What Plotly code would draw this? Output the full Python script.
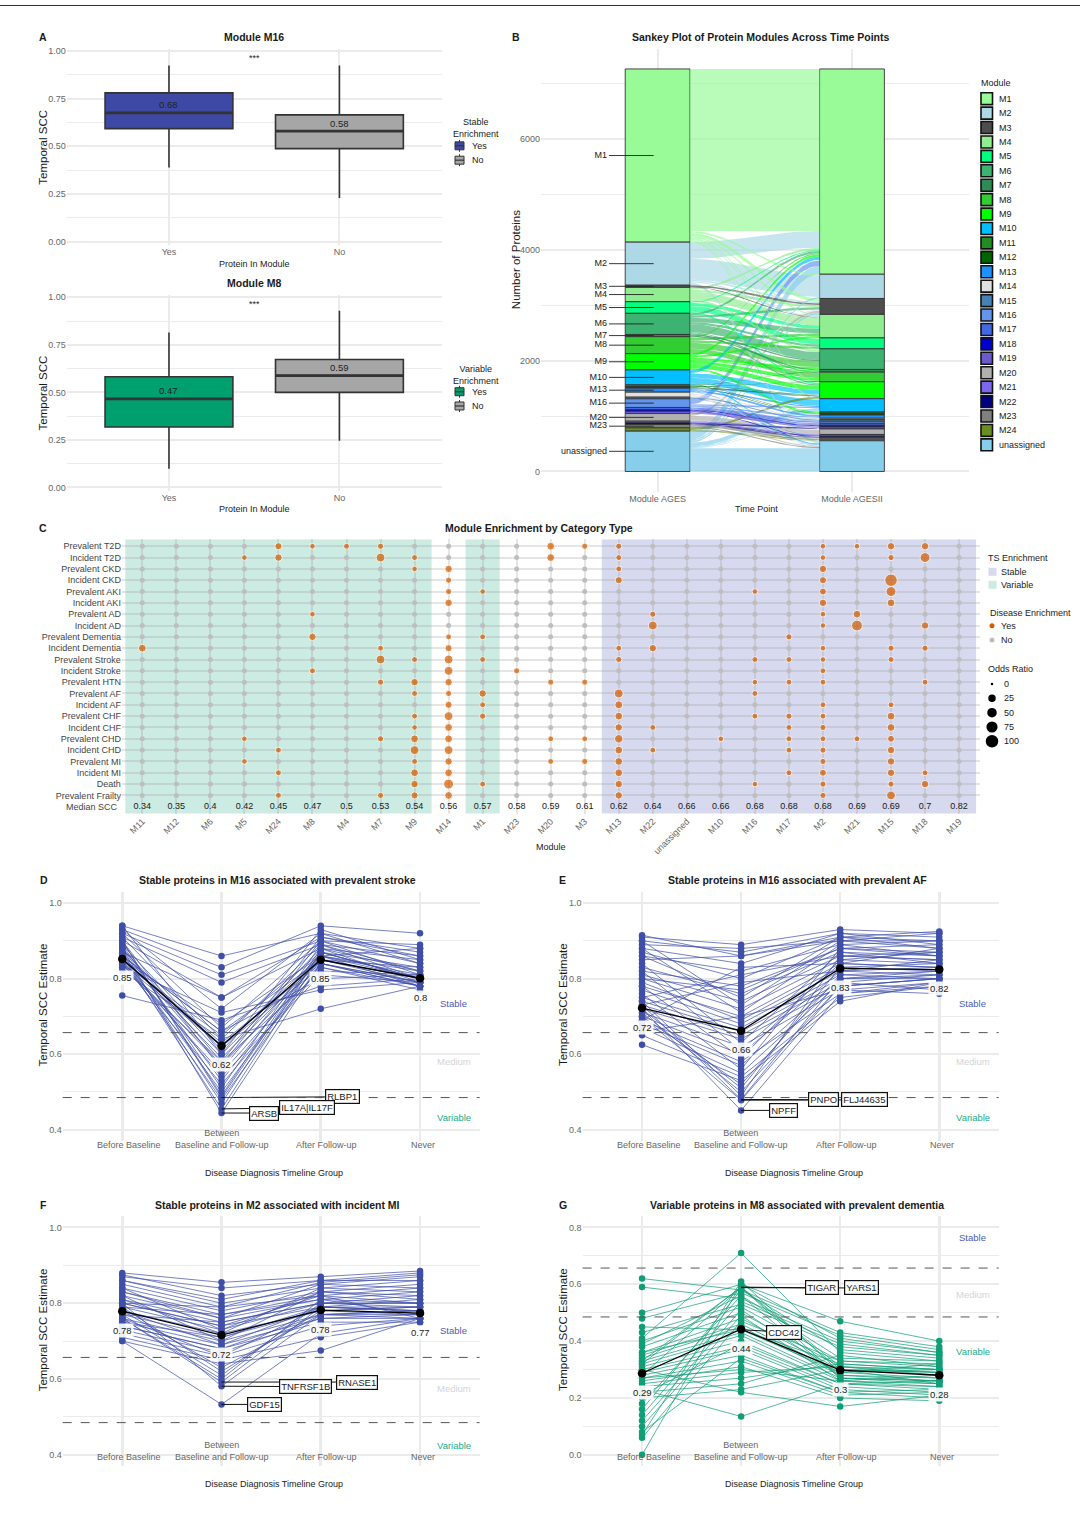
import math
import plotly.graph_objects as go

W, H = 1080, 1533
FONT = "Liberation Sans, Arial, Helvetica, sans-serif"
TXT = "#1a1a1a"
TICK = "#666666"
GRID = "#EBEBEB"
BLUE = "#3F4FA8"
GREEN = "#109E77"
ORANGE = "#D55E00"
NO_GREY = "#BEBEBE"

# ---------------- Panel A data ----------------
A_GROUPS = ["Yes", "No"]
A1_Q1 = [0.593, 0.488]
A1_MED = [0.676, 0.580]
A1_Q3 = [0.781, 0.665]
A1_LO = [0.389, 0.228]
A1_HI = [0.925, 0.925]
A1_COLORS = ["#3E49A6", "#A6A6A6"]
A2_Q1 = [0.318, 0.500]
A2_MED = [0.466, 0.588]
A2_Q3 = [0.582, 0.673]
A2_LO = [0.098, 0.245]
A2_HI = [0.815, 0.930]
A2_COLORS = ["#009F6E", "#A6A6A6"]
A_YTICKS = [0.0, 0.25, 0.5, 0.75, 1.0]
A_YMINOR = [0.125, 0.375, 0.625, 0.875]

# ---------------- Panel B data ----------------
MODULES = ["M1", "M2", "M3", "M4", "M5", "M6", "M7", "M8", "M9", "M10", "M11", "M12",
           "M13", "M14", "M15", "M16", "M17", "M18", "M19", "M20", "M21", "M22", "M23",
           "M24", "unassigned"]
MODULE_COLORS = ["#98FB98", "#ADD8E6", "#4D4D4D", "#90EE90", "#00FF7F", "#3CB371",
                 "#2E8B57", "#32CD32", "#00FF00", "#00BFFF", "#228B22", "#006400",
                 "#1E90FF", "#E0E0E0", "#4682B4", "#6495ED", "#4169E1", "#0000CD",
                 "#6A5ACD", "#B0B0B0", "#7B68EE", "#000080", "#808080", "#6B8E23",
                 "#87CEEB"]
FLOWS = [
    ("M1", "M1", 2928), ("M1", "M2", 30), ("M1", "M3", 60), ("M1", "M4", 30),
    ("M1", "M5", 20), ("M1", "M6", 20), ("M1", "M9", 20), ("M1", "M10", 20),
    ("M2", "M1", 300), ("M2", "M2", 380), ("M2", "M3", 28), ("M2", "M4", 20),
    ("M2", "unassigned", 50),
    ("M3", "M3", 30), ("M3", "M4", 10),
    ("M4", "M1", 40), ("M4", "M3", 40), ("M4", "M4", 140), ("M4", "M6", 38),
    ("M5", "M1", 20), ("M5", "M4", 60), ("M5", "M5", 100), ("M5", "M9", 30),
    ("M6", "M1", 40), ("M6", "M3", 40), ("M6", "M4", 80), ("M6", "M5", 40),
    ("M6", "M6", 142), ("M6", "M8", 20), ("M6", "M9", 20),
    ("M7", "M6", 22), ("M7", "M7", 18),
    ("M8", "M1", 20), ("M8", "M4", 50), ("M8", "M5", 38), ("M8", "M6", 110),
    ("M8", "M8", 88),
    ("M9", "M1", 40), ("M9", "M4", 34), ("M9", "M6", 40), ("M9", "M7", 18),
    ("M9", "M8", 50), ("M9", "M9", 80), ("M9", "M11", 16), ("M9", "M12", 16),
    ("M10", "M1", 60), ("M10", "M9", 80), ("M10", "M10", 110), ("M10", "unassigned", 20),
    ("M11", "M7", 12), ("M11", "M9", 10), ("M11", "M11", 8),
    ("M12", "M8", 16), ("M12", "M9", 10), ("M12", "M12", 4),
    ("M13", "M9", 16), ("M13", "M10", 20), ("M13", "M13", 30), ("M13", "unassigned", 6),
    ("M14", "M1", 10), ("M14", "M3", 20), ("M14", "M14", 24), ("M14", "M20", 20),
    ("M14", "unassigned", 16),
    ("M15", "M15", 20), ("M15", "M22", 6), ("M15", "unassigned", 4),
    ("M16", "M1", 100), ("M16", "M10", 20), ("M16", "M13", 20), ("M16", "M15", 10),
    ("M16", "M16", 6),
    ("M17", "M16", 20), ("M17", "M17", 20),
    ("M18", "M18", 20), ("M18", "M22", 10),
    ("M19", "M17", 16), ("M19", "M18", 10), ("M19", "M19", 14),
    ("M20", "M3", 40), ("M20", "M20", 80), ("M20", "unassigned", 18),
    ("M21", "M19", 12), ("M21", "M21", 18),
    ("M22", "M19", 10), ("M22", "M21", 12), ("M22", "M22", 8),
    ("M23", "M23", 20), ("M23", "M24", 20), ("M23", "unassigned", 20),
    ("M24", "M9", 40), ("M24", "M23", 10), ("M24", "M24", 10),
    ("unassigned", "M1", 150), ("unassigned", "M2", 28), ("unassigned", "M3", 30),
    ("unassigned", "M10", 70), ("unassigned", "M12", 10), ("unassigned", "M13", 10),
    ("unassigned", "M16", 10), ("unassigned", "unassigned", 420),
]
B_LABELED = ["M1", "M2", "M3", "M4", "M5", "M6", "M7", "M8", "M9", "M10", "M13",
             "M16", "M20", "M23", "unassigned"]
B_TIMEPOINTS = ["Module AGES", "Module AGESII"]
B_YTICKS = [0, 2000, 4000, 6000]
B_YMINOR = [1000, 3000, 5000, 7000]

# ---------------- Panel C data ----------------
C_MODULES = ["M11", "M12", "M6", "M5", "M24", "M8", "M4", "M7", "M9", "M14", "M1", "M23",
             "M20", "M3", "M13", "M22", "unassigned", "M10", "M16", "M17", "M2", "M21",
             "M15", "M18", "M19"]
C_MEDIAN_SCC = [0.34, 0.35, 0.4, 0.42, 0.45, 0.47, 0.5, 0.53, 0.54, 0.56, 0.57, 0.58,
                0.59, 0.61, 0.62, 0.64, 0.66, 0.66, 0.68, 0.68, 0.68, 0.69, 0.69, 0.7, 0.82]
C_TS = ["Variable"] * 9 + ["None", "Variable", "None", "None", "None"] + ["Stable"] * 11
C_CATEGORIES = ["Prevalent T2D", "Incident T2D", "Prevalent CKD", "Incident CKD",
                "Prevalent AKI", "Incident AKI", "Prevalent AD", "Incident AD",
                "Prevalent Dementia", "Incident Dementia", "Prevalent Stroke",
                "Incident Stroke", "Prevalent HTN", "Prevalent AF", "Incident AF",
                "Prevalent CHF", "Incident CHF", "Prevalent CHD", "Incident CHD",
                "Prevalent MI", "Incident MI", "Death", "Prevalent Frailty"]
C_ENRICH = {
    "M11": {"Incident Dementia": 28},
    "M12": {},
    "M6": {},
    "M5": {"Incident T2D": 10, "Prevalent CHD": 10, "Prevalent MI": 10},
    "M24": {"Prevalent T2D": 22, "Incident T2D": 25, "Incident CHD": 12, "Incident MI": 12,
            "Prevalent Frailty": 12},
    "M8": {"Prevalent T2D": 10, "Prevalent AD": 10, "Prevalent Dementia": 25,
           "Incident Stroke": 12},
    "M4": {"Prevalent T2D": 12},
    "M7": {"Prevalent T2D": 14, "Incident T2D": 40, "Incident Dementia": 12,
           "Prevalent Stroke": 40, "Prevalent HTN": 14, "Prevalent CHD": 14,
           "Prevalent Frailty": 14},
    "M9": {"Incident T2D": 12, "Prevalent CKD": 10, "Prevalent Stroke": 12,
           "Prevalent HTN": 25, "Prevalent AF": 12, "Prevalent CHF": 12, "Incident CHF": 10,
           "Prevalent CHD": 28, "Incident CHD": 40, "Prevalent MI": 12, "Incident MI": 28,
           "Death": 25, "Prevalent Frailty": 22},
    "M14": {"Prevalent CKD": 25, "Incident CKD": 14, "Prevalent AKI": 14, "Incident AKI": 25,
            "Prevalent Dementia": 12, "Incident Dementia": 22, "Prevalent Stroke": 40,
            "Incident Stroke": 40, "Prevalent HTN": 25, "Prevalent AF": 14,
            "Incident AF": 22, "Prevalent CHF": 40, "Incident CHF": 28, "Prevalent CHD": 28,
            "Incident CHD": 40, "Prevalent MI": 25, "Incident MI": 28, "Death": 55,
            "Prevalent Frailty": 28},
    "M1": {"Prevalent AKI": 10, "Prevalent Dementia": 12, "Prevalent Stroke": 12,
           "Prevalent AF": 25, "Incident AF": 12, "Prevalent CHF": 14, "Death": 12},
    "M23": {"Incident Stroke": 14},
    "M20": {"Prevalent T2D": 28, "Incident T2D": 28, "Prevalent HTN": 14,
            "Prevalent CHD": 12, "Prevalent MI": 12},
    "M3": {"Prevalent T2D": 14, "Prevalent HTN": 14, "Prevalent CHD": 12, "Prevalent MI": 14},
    "M13": {"Prevalent T2D": 14, "Incident T2D": 12, "Prevalent CKD": 12, "Incident CKD": 22,
            "Incident Dementia": 12, "Prevalent Stroke": 14, "Prevalent AF": 40,
            "Incident AF": 30, "Prevalent CHF": 28, "Incident CHF": 25, "Prevalent CHD": 35,
            "Incident CHD": 28, "Prevalent MI": 28, "Incident MI": 28, "Death": 25,
            "Prevalent Frailty": 25},
    "M22": {"Prevalent AD": 14, "Incident AD": 40, "Incident Dementia": 25,
            "Incident CHF": 12, "Incident CHD": 12},
    "unassigned": {},
    "M10": {"Prevalent CHD": 10},
    "M16": {"Prevalent AKI": 10, "Prevalent Stroke": 12, "Prevalent HTN": 10,
            "Prevalent AF": 12, "Prevalent CHF": 12, "Death": 10},
    "M17": {"Prevalent Dementia": 14, "Prevalent Stroke": 12, "Prevalent HTN": 12,
            "Prevalent CHF": 14, "Incident CHF": 12, "Prevalent CHD": 12, "Incident CHD": 12,
            "Incident MI": 12},
    "M2": {"Prevalent T2D": 10, "Incident T2D": 10, "Prevalent CKD": 25, "Incident CKD": 22,
           "Prevalent AKI": 20, "Incident AKI": 25, "Prevalent AD": 10, "Incident AD": 10,
           "Incident Dementia": 10, "Prevalent Stroke": 10, "Incident Stroke": 12,
           "Prevalent HTN": 12, "Incident AF": 12, "Prevalent CHF": 12, "Incident CHF": 14,
           "Prevalent CHD": 12, "Incident CHD": 14, "Prevalent MI": 14, "Incident MI": 20,
           "Death": 14, "Prevalent Frailty": 14},
    "M21": {"Prevalent T2D": 10, "Prevalent AD": 28, "Incident AD": 70, "Prevalent CHD": 12},
    "M15": {"Prevalent T2D": 25, "Incident T2D": 14, "Incident CKD": 100, "Prevalent AKI": 55,
            "Incident AKI": 28, "Incident Dementia": 14, "Prevalent Stroke": 12,
            "Incident AF": 12, "Prevalent CHF": 28, "Incident CHF": 28, "Prevalent CHD": 20,
            "Incident CHD": 25, "Prevalent MI": 25, "Incident MI": 25, "Death": 14,
            "Prevalent Frailty": 40},
    "M18": {"Prevalent T2D": 25, "Incident T2D": 55, "Incident AD": 25,
            "Incident Dementia": 14, "Prevalent HTN": 12, "Incident MI": 12, "Death": 25},
    "M19": {},
}
C_OR_LEGEND = [0, 25, 50, 75, 100]

# ---------------- Panels D-G data ----------------
TL_GROUPS = ["Before Baseline", "Between<br>Baseline and Follow-up", "After Follow-up", "Never"]
THRESHOLDS = [0.657, 0.485]

D_NAMES = ["RLBP1", "IL17A|IL17F", "ARSB"]
D_VALUES = [
    [0.90, 0.485, 0.87, 0.80], [0.86, 0.455, 0.86, 0.78], [0.88, 0.444, 0.84, 0.79],
    [0.94, 0.86, 0.92, 0.88], [0.93, 0.83, 0.94, 0.92], [0.92, 0.81, 0.90, 0.89],
    [0.91, 0.79, 0.89, 0.86], [0.90, 0.75, 0.91, 0.87], [0.87, 0.75, 0.88, 0.85],
    [0.93, 0.72, 0.92, 0.84], [0.85, 0.68, 0.86, 0.82], [0.92, 0.67, 0.90, 0.81],
    [0.86, 0.66, 0.85, 0.80], [0.84, 0.65, 0.87, 0.83], [0.91, 0.64, 0.89, 0.80],
    [0.85, 0.63, 0.84, 0.79], [0.84, 0.62, 0.83, 0.78], [0.89, 0.61, 0.88, 0.82],
    [0.88, 0.60, 0.86, 0.80], [0.86, 0.59, 0.85, 0.79], [0.83, 0.58, 0.82, 0.81],
    [0.87, 0.57, 0.90, 0.84], [0.90, 0.56, 0.87, 0.80], [0.84, 0.55, 0.84, 0.78],
    [0.85, 0.54, 0.81, 0.79], [0.88, 0.53, 0.86, 0.81], [0.84, 0.52, 0.83, 0.77],
    [0.89, 0.51, 0.89, 0.82], [0.86, 0.50, 0.85, 0.80], [0.90, 0.49, 0.88, 0.79],
    [0.85, 0.48, 0.84, 0.78], [0.87, 0.47, 0.87, 0.80], [0.755, 0.69, 0.78, 0.80],
    [0.83, 0.71, 0.77, 0.79], [0.82, 0.64, 0.72, 0.78], [0.94, 0.60, 0.93, 0.85],
    [0.86, 0.66, 0.80, 0.81], [0.85, 0.62, 0.86, 0.88], [0.88, 0.58, 0.91, 0.86],
    [0.84, 0.57, 0.85, 0.83],
]
D_MEANS = [0.852, 0.622, 0.850, 0.801]
D_LABEL_POS = [(3.22, 0.487), (2.86, 0.458), (2.43, 0.444)]

E_NAMES = ["PNPO", "FLJ44635", "NPFF"]
E_VALUES = [
    [0.73, 0.48, 0.80, 0.81], [0.70, 0.478, 0.78, 0.80], [0.72, 0.451, 0.76, 0.79],
    [0.91, 0.89, 0.93, 0.92], [0.90, 0.87, 0.92, 0.91], [0.915, 0.86, 0.91, 0.925],
    [0.89, 0.88, 0.90, 0.90], [0.88, 0.84, 0.92, 0.89], [0.86, 0.82, 0.89, 0.90],
    [0.87, 0.80, 0.91, 0.88], [0.85, 0.86, 0.90, 0.92], [0.82, 0.78, 0.88, 0.87],
    [0.83, 0.76, 0.87, 0.86], [0.81, 0.74, 0.86, 0.85], [0.80, 0.72, 0.85, 0.84],
    [0.78, 0.70, 0.84, 0.83], [0.79, 0.69, 0.83, 0.82], [0.77, 0.68, 0.82, 0.81],
    [0.75, 0.67, 0.81, 0.80], [0.74, 0.66, 0.80, 0.82], [0.73, 0.65, 0.79, 0.81],
    [0.72, 0.64, 0.78, 0.80], [0.71, 0.62, 0.77, 0.79], [0.70, 0.60, 0.82, 0.83],
    [0.69, 0.58, 0.76, 0.78], [0.68, 0.57, 0.80, 0.80], [0.67, 0.55, 0.79, 0.77],
    [0.65, 0.54, 0.75, 0.78], [0.625, 0.53, 0.74, 0.79], [0.70, 0.52, 0.81, 0.82],
    [0.72, 0.51, 0.83, 0.84], [0.71, 0.50, 0.78, 0.80], [0.74, 0.49, 0.86, 0.85],
    [0.76, 0.56, 0.88, 0.86], [0.78, 0.59, 0.85, 0.87], [0.82, 0.61, 0.84, 0.83],
    [0.84, 0.63, 0.87, 0.84], [0.88, 0.71, 0.89, 0.86], [0.90, 0.73, 0.90, 0.88],
    [0.86, 0.75, 0.91, 0.90], [0.80, 0.77, 0.88, 0.89], [0.73, 0.79, 0.82, 0.85],
    [0.75, 0.81, 0.86, 0.87], [0.69, 0.83, 0.84, 0.88], [0.66, 0.70, 0.77, 0.76],
]
E_MEANS = [0.722, 0.662, 0.827, 0.824]
E_LABEL_POS = [(2.83, 0.479), (3.25, 0.479), (2.43, 0.451)]

F_NAMES = ["RNASE1", "TNFRSF1B", "GDF15"]
F_VALUES = [
    [0.76, 0.592, 0.79, 0.78], [0.80, 0.581, 0.77, 0.76], [0.70, 0.533, 0.72, 0.76],
    [0.88, 0.855, 0.87, 0.885], [0.87, 0.84, 0.86, 0.88], [0.875, 0.82, 0.85, 0.87],
    [0.86, 0.80, 0.84, 0.86], [0.85, 0.79, 0.855, 0.875], [0.84, 0.78, 0.83, 0.85],
    [0.83, 0.77, 0.82, 0.84], [0.82, 0.76, 0.81, 0.83], [0.81, 0.75, 0.80, 0.82],
    [0.80, 0.74, 0.79, 0.81], [0.79, 0.73, 0.80, 0.80], [0.78, 0.72, 0.78, 0.79],
    [0.77, 0.71, 0.79, 0.78], [0.76, 0.70, 0.77, 0.77], [0.75, 0.69, 0.76, 0.76],
    [0.74, 0.68, 0.75, 0.75], [0.73, 0.67, 0.76, 0.77], [0.72, 0.66, 0.74, 0.76],
    [0.71, 0.65, 0.71, 0.75], [0.70, 0.64, 0.675, 0.76], [0.78, 0.63, 0.77, 0.78],
    [0.79, 0.62, 0.78, 0.79], [0.77, 0.61, 0.80, 0.80], [0.76, 0.60, 0.81, 0.77],
    [0.82, 0.70, 0.83, 0.82], [0.81, 0.72, 0.84, 0.83], [0.80, 0.74, 0.82, 0.80],
    [0.83, 0.76, 0.85, 0.84], [0.84, 0.73, 0.83, 0.81], [0.78, 0.69, 0.79, 0.78],
    [0.77, 0.75, 0.80, 0.79], [0.79, 0.77, 0.81, 0.80], [0.80, 0.79, 0.82, 0.76],
    [0.75, 0.71, 0.78, 0.77], [0.74, 0.68, 0.77, 0.78], [0.76, 0.66, 0.79, 0.79],
    [0.86, 0.81, 0.86, 0.86],
]
F_MEANS = [0.779, 0.716, 0.782, 0.774]
F_LABEL_POS = [(3.36, 0.592), (2.85, 0.580), (2.43, 0.533)]

G_NAMES = ["TIGAR", "YARS1", "CDC42"]
G_VALUES = [
    [0.33, 0.59, 0.27, 0.26], [0.28, 0.588, 0.30, 0.25], [0.36, 0.44, 0.32, 0.30],
    [0.62, 0.58, 0.43, 0.38], [0.59, 0.55, 0.40, 0.36], [0.50, 0.60, 0.47, 0.40],
    [0.48, 0.57, 0.42, 0.37], [0.43, 0.53, 0.38, 0.35], [0.41, 0.71, 0.36, 0.33],
    [0.40, 0.52, 0.33, 0.32], [0.38, 0.50, 0.31, 0.30], [0.36, 0.48, 0.30, 0.29],
    [0.35, 0.46, 0.29, 0.27], [0.34, 0.45, 0.28, 0.26], [0.33, 0.43, 0.27, 0.25],
    [0.32, 0.42, 0.26, 0.24], [0.31, 0.40, 0.25, 0.23], [0.30, 0.38, 0.24, 0.22],
    [0.29, 0.37, 0.23, 0.21], [0.28, 0.35, 0.22, 0.20], [0.27, 0.33, 0.21, 0.22],
    [0.26, 0.31, 0.20, 0.19], [0.25, 0.29, 0.31, 0.28], [0.24, 0.27, 0.32, 0.30],
    [0.22, 0.25, 0.35, 0.31], [0.20, 0.23, 0.30, 0.29], [0.18, 0.56, 0.34, 0.33],
    [0.16, 0.58, 0.37, 0.34], [0.14, 0.54, 0.39, 0.35], [0.12, 0.51, 0.28, 0.27],
    [0.10, 0.49, 0.26, 0.28], [0.07, 0.61, 0.29, 0.30], [0.06, 0.47, 0.33, 0.31],
    [0.00, 0.60, 0.41, 0.36], [0.30, 0.22, 0.17, 0.21], [0.23, 0.135, 0.25, 0.24],
    [0.45, 0.44, 0.29, 0.32], [0.39, 0.56, 0.27, 0.26], [0.32, 0.59, 0.31, 0.29],
    [0.21, 0.39, 0.25, 0.26], [0.27, 0.30, 0.26, 0.25], [0.08, 0.34, 0.22, 0.23],
]
G_MEANS = [0.287, 0.442, 0.298, 0.280]
G_LABEL_POS = [(2.82, 0.587), (3.22, 0.587), (2.43, 0.432)]

# =====================================================================
def fx(px):
    return px / W


def fy(py):
    return 1 - py / H


def rgba(h, a):
    h = h.lstrip("#")
    return "rgba(%d,%d,%d,%s)" % (int(h[0:2], 16), int(h[2:4], 16), int(h[4:6], 16), a)


fig = go.Figure()
annotations = []
shapes = []
layout_axes = {}


def txt(px, py, s, size=9, color=TXT, bold=False, xanchor="center", yanchor="middle", angle=0):
    if bold:
        s = "<b>%s</b>" % s
    annotations.append(dict(x=fx(px), y=fy(py), xref="paper", yref="paper", text=s,
                            showarrow=False, textangle=angle, xanchor=xanchor,
                            yanchor=yanchor, font=dict(family=FONT, size=size, color=color)))


def rect_px(x0, y0, x1, y1, fill, lc=None, lw=0):
    shapes.append(dict(type="rect", xref="paper", yref="paper", x0=fx(x0), x1=fx(x1),
                       y0=fy(y1), y1=fy(y0), fillcolor=fill,
                       line=dict(color=lc or fill, width=lw)))


def line_px(x0, y0, x1, y1, color, width):
    shapes.append(dict(type="line", xref="paper", yref="paper", x0=fx(x0), x1=fx(x1),
                       y0=fy(y0), y1=fy(y1), line=dict(color=color, width=width)))


def circle_px(cx, cy, d, fill):
    shapes.append(dict(type="circle", xref="paper", yref="paper", xsizemode="pixel",
                       ysizemode="pixel", xanchor=fx(cx), yanchor=fy(cy), x0=-d / 2,
                       x1=d / 2, y0=-d / 2, y1=d / 2, fillcolor=fill, line=dict(width=0)))


def axis(name, dom, rng, anchor, **kw):
    d = dict(domain=dom, range=rng, anchor=anchor, showline=False, zeroline=False,
             ticks="", showgrid=True, gridcolor=GRID, gridwidth=2.0, fixedrange=True,
             tickfont=dict(family=FONT, size=9, color=TICK))
    d.update(kw)
    layout_axes[name] = d


def xdom(a, b):
    return [fx(a), fx(b)]


def ydom(top, bottom):
    return [fy(bottom), fy(top)]


# top rule
line_px(0, 2.5, 1080, 2.5, "#333333", 1)

# ---------------- Panel A ----------------
A_PANELS = [
    dict(xa="x", ya="y", xn="xaxis", yn="yaxis", q1=A1_Q1, med=A1_MED, q3=A1_Q3,
         lo=A1_LO, hi=A1_HI, colors=A1_COLORS, ypx=(46, 243), title="Module M16",
         title_py=34, xt_py=262, leg_title="Stable<br>Enrichment", leg_py=(125, 143.3, 157.7)),
    dict(xa="x2", ya="y2", xn="xaxis2", yn="yaxis2", q1=A2_Q1, med=A2_MED, q3=A2_Q3,
         lo=A2_LO, hi=A2_HI, colors=A2_COLORS, ypx=(292.7, 489.3), title="Module M8",
         title_py=281, xt_py=508, leg_title="Variable<br>Enrichment", leg_py=(373, 390, 404.3)),
]
A_YPX_PER_UNIT = [(48.3, 239.3), (295.3, 486.0)]
for k, P in enumerate(A_PANELS):
    y1px, y0px = A_YPX_PER_UNIT[k]
    ppu = y0px - y1px
    rng = [-(P["ypx"][1] - y0px) / ppu, 1 + (y1px - P["ypx"][0]) / ppu]
    axis(P["xn"], xdom(66.7, 441.7), [0.4, 2.6], P["ya"], tickvals=[1, 2],
         ticktext=A_GROUPS)
    axis(P["yn"], ydom(*P["ypx"]), rng, P["xa"], tickvals=A_YTICKS, tickformat=".2f",
         minor=dict(tickvals=A_YMINOR, showgrid=True, gridcolor=GRID, gridwidth=1))
    for i in range(2):
        fig.add_trace(go.Box(x=[i + 1], q1=[P["q1"][i]], median=[P["med"][i]],
                             q3=[P["q3"][i]], lowerfence=[P["lo"][i]],
                             upperfence=[P["hi"][i]], width=0.75, boxpoints=False,
                             whiskerwidth=0,
                             fillcolor=P["colors"][i], line=dict(color="#333333", width=1.6),
                             xaxis=P["xa"], yaxis=P["ya"], showlegend=False, hoverinfo="skip"))
        fig.add_trace(go.Scatter(x=[i + 1 - 0.375, i + 1 + 0.375],
                                 y=[P["med"][i], P["med"][i]], mode="lines",
                                 line=dict(color="#333333", width=2.8), xaxis=P["xa"],
                                 yaxis=P["ya"], showlegend=False, hoverinfo="skip"))
        annotations.append(dict(x=i + 1, y=P["med"][i], xref=P["xa"], yref=P["ya"],
                                text="%.2f" % P["med"][i], showarrow=False, yshift=8,
                                font=dict(family=FONT, size=9.5, color="#222222")))
    annotations.append(dict(x=1.5, y=0.965, xref=P["xa"], yref=P["ya"], text="***",
                            showarrow=False, font=dict(family=FONT, size=9, color=TXT)))
    txt(254, P["title_py"], P["title"], size=10.5, bold=True)
    txt(254, P["xt_py"], "Protein In Module", size=9)
    txt(42.7, (P["ypx"][0] + P["ypx"][1]) / 2, "Temporal SCC", size=11.5, angle=-90)
    # legend
    txt(476, P["leg_py"][0], P["leg_title"], size=9)
    for j in range(2):
        cy = P["leg_py"][1 + j]
        line_px(459.5, cy - 6, 459.5, cy + 6, "#333333", 1)
        rect_px(455, cy - 4, 464, cy + 4, P["colors"][j], "#333333", 1)
        line_px(455, cy, 464, cy, "#333333", 1.2)
        txt(470, cy, A_GROUPS[j], size=9, xanchor="left")

txt(43, 34, "A", size=10.5, bold=True)

# ---------------- Panel B ----------------
MOD_IDX = {m: i for i, m in enumerate(MODULES)}
TOTAL = sum(c for _, _, c in FLOWS)
left_size = [sum(c for s, t, c in FLOWS if s == m) for m in MODULES]
right_size = [sum(c for s, t, c in FLOWS if t == m) for m in MODULES]


def stack_tops(sizes):
    tops, cur = [], TOTAL
    for s in sizes:
        tops.append(cur)
        cur -= s
    return tops


left_top = stack_tops(left_size)
right_top = stack_tops(right_size)
lcur = {m: left_top[i] for i, m in enumerate(MODULES)}
rcur = {m: right_top[i] for i, m in enumerate(MODULES)}
lpos, rpos = {}, {}
for s, t, c in sorted(FLOWS, key=lambda f: (MOD_IDX[f[0]], MOD_IDX[f[1]])):
    lpos[(s, t)] = (lcur[s] - c, lcur[s])
    lcur[s] -= c
for s, t, c in sorted(FLOWS, key=lambda f: (MOD_IDX[f[1]], MOD_IDX[f[0]])):
    rpos[(s, t)] = (rcur[t] - c, rcur[t])
    rcur[t] -= c

B_EXP = 0.05 * TOTAL
b_rng = [-B_EXP, TOTAL + B_EXP]
b_px_per = 111.1 / 2000.0
b_top_px = 470 - b_rng[1] * b_px_per
b_bot_px = 470 - b_rng[0] * b_px_per
axis("xaxis3", xdom(541, 968.6), [0.4, 2.6], "y3", tickvals=[1, 2], ticktext=B_TIMEPOINTS)
axis("yaxis3", ydom(b_top_px, b_bot_px), b_rng, "x3", tickvals=B_YTICKS,
     minor=dict(tickvals=B_YMINOR, showgrid=True, gridcolor=GRID, gridwidth=1))

BW = 1 / 3.0
XL, XR = 1 + BW / 2, 2 - BW / 2
NPTS = 40
order = sorted(FLOWS, key=lambda f: -f[2])
for s, t, c in order:
    l0, l1 = lpos[(s, t)]
    r0, r1 = rpos[(s, t)]
    xs, ytop, ybot = [], [], []
    for k in range(NPTS + 1):
        u = k / NPTS
        w = (1 - math.cos(math.pi * u)) / 2
        xs.append(XL + (XR - XL) * u)
        ytop.append(l1 + (r1 - l1) * w)
        ybot.append(l0 + (r0 - l0) * w)
    fig.add_trace(go.Scatter(x=xs + xs[::-1], y=ytop + ybot[::-1], mode="lines",
                             fill="toself", fillcolor=rgba(MODULE_COLORS[MOD_IDX[s]], 0.68),
                             line=dict(width=0), xaxis="x3", yaxis="y3",
                             showlegend=False, hoverinfo="skip"))

for i, m in enumerate(MODULES):
    fig.add_trace(go.Bar(x=[1, 2], y=[left_size[i], right_size[i]],
                         base=[left_top[i] - left_size[i], right_top[i] - right_size[i]],
                         width=BW, marker=dict(color=MODULE_COLORS[i],
                                               line=dict(color="#333333", width=0.9)),
                         xaxis="x3", yaxis="y3", showlegend=False, hoverinfo="skip"))

lab_y = [left_top[MOD_IDX[m]] - left_size[MOD_IDX[m]] / 2 for m in B_LABELED]
seg_x, seg_y = [], []
for yv in lab_y:
    seg_x += [0.75, 0.98, None]
    seg_y += [yv, yv, None]
fig.add_trace(go.Scatter(x=seg_x, y=seg_y, mode="lines", line=dict(color="#222222", width=0.9),
                         xaxis="x3", yaxis="y3", showlegend=False, hoverinfo="skip"))
fig.add_trace(go.Scatter(x=[0.74] * len(B_LABELED), y=lab_y, mode="text", text=B_LABELED,
                         textposition="middle left",
                         textfont=dict(family=FONT, size=9, color=TXT),
                         xaxis="x3", yaxis="y3", showlegend=False, hoverinfo="skip"))

txt(516, 34, "B", size=10.5, bold=True)
txt(760, 34, "Sankey Plot of Protein Modules Across Time Points", size=10.5, bold=True)
txt(756, 508, "Time Point", size=9)
txt(516, 258, "Number of Proteins", size=11.5, angle=-90)
# module legend
txt(979, 80, "Module", size=9, xanchor="left")
for i, m in enumerate(MODULES):
    cy = 96 + 14.47 * i
    rect_px(981, cy - 6, 992.5, cy + 6, MODULE_COLORS[i], "#111111", 1.6)
    txt(996.6, cy, m, size=9, xanchor="left")

# ---------------- Panel C ----------------
NCAT = len(C_CATEGORIES)
c_rows = {cat: NCAT + 1 - i for i, cat in enumerate(C_CATEGORIES)}  # T2D=24 ... Frailty=2
axis("xaxis4", xdom(121.9, 979.5), [0.4, len(C_MODULES) + 0.6], "y4",
     tickvals=list(range(1, len(C_MODULES) + 1)), ticktext=C_MODULES, tickangle=-45,
     gridcolor="rgba(150,150,150,0.25)", gridwidth=2)
axis("yaxis4", ydom(538.2, 813.2), [0.4, NCAT + 1.6], "x4",
     tickvals=[c_rows[c] for c in C_CATEGORIES], ticktext=C_CATEGORIES,
     gridcolor="rgba(150,150,150,0.25)", gridwidth=2,
     tickfont=dict(family=FONT, size=9, color="#444444"))

TS_FILL = {"Stable": "#D7D9EE", "Variable": "#CCEBE3"}
runs = []
for i, ts in enumerate(C_TS):
    if ts in TS_FILL:
        if runs and runs[-1][0] == ts and runs[-1][2] == i:
            runs[-1][2] = i + 1
        else:
            runs.append([ts, i + 1, i + 1])
for ts, a, b in runs:
    shapes.append(dict(type="rect", xref="x4", yref="y4 domain", x0=a - 0.5, x1=b + 0.5,
                       y0=0, y1=1, fillcolor=TS_FILL[ts], line=dict(width=0), layer="below"))


def or_size(v):
    return 2.5 + 10.0 * math.sqrt(v / 100.0)


gx, gy, ox, oy, osz = [], [], [], [], []
for j, m in enumerate(C_MODULES):
    for cat in C_CATEGORIES:
        if cat in C_ENRICH[m]:
            ox.append(j + 1)
            oy.append(c_rows[cat])
            osz.append(or_size(C_ENRICH[m][cat]))
        else:
            gx.append(j + 1)
            gy.append(c_rows[cat])
fig.add_trace(go.Scatter(x=gx, y=gy, mode="markers", marker=dict(color=NO_GREY, size=5),
                         xaxis="x4", yaxis="y4", showlegend=False, hoverinfo="skip"))
fig.add_trace(go.Scatter(x=ox, y=oy, mode="markers", marker=dict(color=ORANGE, size=osz),
                         xaxis="x4", yaxis="y4", showlegend=False, hoverinfo="skip"))
fig.add_trace(go.Scatter(x=list(range(1, len(C_MODULES) + 1)), y=[1] * len(C_MODULES),
                         mode="text", text=["%g" % v for v in C_MEDIAN_SCC],
                         textfont=dict(family=FONT, size=9, color=TXT),
                         xaxis="x4", yaxis="y4", showlegend=False, hoverinfo="skip"))
annotations.append(dict(x=fx(119.5), y=1, xref="paper", yref="y4", text="Median SCC",
                        showarrow=False, xanchor="right",
                        font=dict(family=FONT, size=9, color="#444444")))
txt(43, 527, "C", size=10.5, bold=True)
txt(539, 527, "Module Enrichment by Category Type", size=10.5, bold=True)
txt(551, 847, "Module", size=9)
# legends
txt(986.4, 557.3, "TS Enrichment", size=9, xanchor="left")
for k, ts in enumerate(["Stable", "Variable"]):
    cy = 570.7 + 13 * k
    rect_px(988.5, cy - 4, 996.5, cy + 4, TS_FILL[ts])
    txt(998.5, cy, ts, size=9, xanchor="left")
txt(988, 612.3, "Disease Enrichment", size=9, xanchor="left")
circle_px(992, 624.7, 5, ORANGE)
txt(999.2, 624.7, "Yes", size=9, xanchor="left")
circle_px(992, 639, 5, NO_GREY)
txt(999.2, 639, "No", size=9, xanchor="left")
txt(986.4, 667.7, "Odds Ratio", size=9, xanchor="left")
for k, v in enumerate(C_OR_LEGEND):
    cy = 683.3 + 14.35 * k
    circle_px(992, cy, or_size(v), "#000000")
    txt(1002, cy, str(v), size=9, xanchor="left")

# ---------------- Panels D-G ----------------
TL_PANELS = [
    dict(n=5, letter="D", title="Stable proteins in M16 associated with prevalent stroke",
         values=D_VALUES, names=D_NAMES, lpos=D_LABEL_POS, means=D_MEANS, color=BLUE,
         yr=[0.37, 1.03], yt=[0.4, 0.6, 0.8, 1.0], ym=[0.5, 0.7, 0.9],
         zones=[0.733, 0.581, 0.431], xpx=(62.7, 479.6), ypx=(891.7, 1141.7),
         letter_px=(44, 880), title_px=(277, 880), xl_bottom=1153, xt_py=1174,
         yt_px=(42.7, 1005)),
    dict(n=6, letter="E", title="Stable proteins in M16 associated with prevalent AF",
         values=E_VALUES, names=E_NAMES, lpos=E_LABEL_POS, means=E_MEANS, color=BLUE,
         yr=[0.37, 1.03], yt=[0.4, 0.6, 0.8, 1.0], ym=[0.5, 0.7, 0.9],
         zones=[0.733, 0.581, 0.431], xpx=(582.6, 998.7), ypx=(891.7, 1141.7),
         letter_px=(562, 880), title_px=(797, 880), xl_bottom=1153, xt_py=1174,
         yt_px=(562.3, 1005)),
    dict(n=7, letter="F", title="Stable proteins in M2 associated with incident MI",
         values=F_VALUES, names=F_NAMES, lpos=F_LABEL_POS, means=F_MEANS, color=BLUE,
         yr=[0.37, 1.03], yt=[0.4, 0.6, 0.8, 1.0], ym=[0.5, 0.7, 0.9],
         zones=[0.728, 0.576, 0.425], xpx=(62.7, 479.6), ypx=(1217, 1468),
         letter_px=(43, 1206), title_px=(277, 1206), xl_bottom=1465.5, xt_py=1486,
         yt_px=(42.7, 1331)),
    dict(n=8, letter="G", title="Variable proteins in M8 associated with prevalent dementia",
         values=G_VALUES, names=G_NAMES, lpos=G_LABEL_POS, means=G_MEANS, color=GREEN,
         yr=[-0.04, 0.84], yt=[0.0, 0.2, 0.4, 0.6, 0.8], ym=[0.1, 0.3, 0.5, 0.7],
         zones=[0.765, 0.563, 0.363], xpx=(582.6, 998.7), ypx=(1217, 1468),
         letter_px=(563, 1206), title_px=(797, 1206), xl_bottom=1465.5, xt_py=1486,
         yt_px=(562.3, 1331)),
]
ZONE_NAMES = ["Stable", "Medium", "Variable"]
ZONE_COLORS = ["#4C5BB5", "#D4D4D4", "#1AAE8A"]
TL_LABEL_XSHIFT = [6.5, 0, 6, 2.5]

for P in TL_PANELS:
    xa, ya = "x%d" % P["n"], "y%d" % P["n"]
    axis("xaxis%d" % P["n"], xdom(*P["xpx"]), [0.4, 4.6], ya, tickvals=[1, 2, 3, 4],
         showticklabels=False, gridwidth=2.6)
    axis("yaxis%d" % P["n"], ydom(*P["ypx"]), P["yr"], xa, tickvals=P["yt"],
         tickformat=".1f",
         minor=dict(tickvals=P["ym"], showgrid=True, gridcolor=GRID, gridwidth=1))
    for th in THRESHOLDS:
        shapes.append(dict(type="line", xref="%s domain" % xa, yref=ya, x0=0, x1=1, y0=th,
                           y1=th, line=dict(color="#555555", width=1, dash="dash")))
    lx, ly = [], []
    for row in P["values"]:
        lx += [1, 2, 3, 4, None]
        ly += list(row) + [None]
    fig.add_trace(go.Scatter(x=lx, y=ly, mode="lines+markers",
                             line=dict(color=rgba(P["color"], 0.75), width=0.95),
                             marker=dict(color=P["color"], size=6.5),
                             xaxis=xa, yaxis=ya, showlegend=False, hoverinfo="skip"))
    sx, sy = [], []
    for k, name in enumerate(P["names"]):
        pv = P["values"][k][1]
        sx += [2, P["lpos"][k][0], None]
        sy += [pv, P["lpos"][k][1], None]
    fig.add_trace(go.Scatter(x=sx, y=sy, mode="lines", line=dict(color="#111111", width=1),
                             xaxis=xa, yaxis=ya, showlegend=False, hoverinfo="skip"))
    fig.add_trace(go.Scatter(x=[1, 2, 3, 4], y=P["means"], mode="lines+markers",
                             line=dict(color="#000000", width=1.3),
                             marker=dict(color="#000000", size=8.5),
                             xaxis=xa, yaxis=ya, showlegend=False, hoverinfo="skip"))
    for k, mv in enumerate(P["means"]):
        annotations.append(dict(x=k + 1, y=mv, xref=xa, yref=ya, text="%g" % round(mv, 2),
                                showarrow=False, yshift=-19, bgcolor="rgba(255,255,255,0.9)",
                                borderpad=1, font=dict(family=FONT, size=9.5, color=TXT)))
    for k, name in enumerate(P["names"]):
        annotations.append(dict(x=P["lpos"][k][0], y=P["lpos"][k][1], xref=xa, yref=ya,
                                text=name, showarrow=False, bgcolor="white",
                                bordercolor="#111111", borderwidth=1.2, borderpad=1,
                                font=dict(family=FONT, size=9.5, color=TXT)))
    for k, zn in enumerate(ZONE_NAMES):
        annotations.append(dict(x=4.34, y=P["zones"][k], xref=xa, yref=ya, text=zn,
                                showarrow=False,
                                font=dict(family=FONT, size=9.5, color=ZONE_COLORS[k])))
    for k, g in enumerate(TL_GROUPS):
        annotations.append(dict(x=k + 1, y=fy(P["xl_bottom"]), xref=xa, yref="paper", text=g,
                                showarrow=False, yanchor="bottom", xshift=TL_LABEL_XSHIFT[k],
                                font=dict(family=FONT, size=9, color=TICK)))
    cx = (P["xpx"][0] + P["xpx"][1]) / 2
    txt(P["letter_px"][0], P["letter_px"][1], P["letter"], size=10.5, bold=True)
    txt(P["title_px"][0], P["title_px"][1], P["title"], size=10.5, bold=True)
    txt(cx + 3, P["xt_py"], "Disease Diagnosis Timeline Group", size=9)
    txt(P["yt_px"][0], P["yt_px"][1], "Temporal SCC Estimate", size=11.5, angle=-90)

fig.update_layout(width=W, height=H, margin=dict(l=0, r=0, t=0, b=0),
                  paper_bgcolor="white", plot_bgcolor="white", showlegend=False,
                  barmode="overlay", annotations=annotations, shapes=shapes,
                  font=dict(family=FONT, size=9, color=TXT), **layout_axes)
fig.write_html("out.html", config={"displayModeBar": False, "staticPlot": True},
               post_script="document.body.style.margin='0px';document.body.style.padding='0px';"
                           "document.documentElement.style.overflow='hidden';")
